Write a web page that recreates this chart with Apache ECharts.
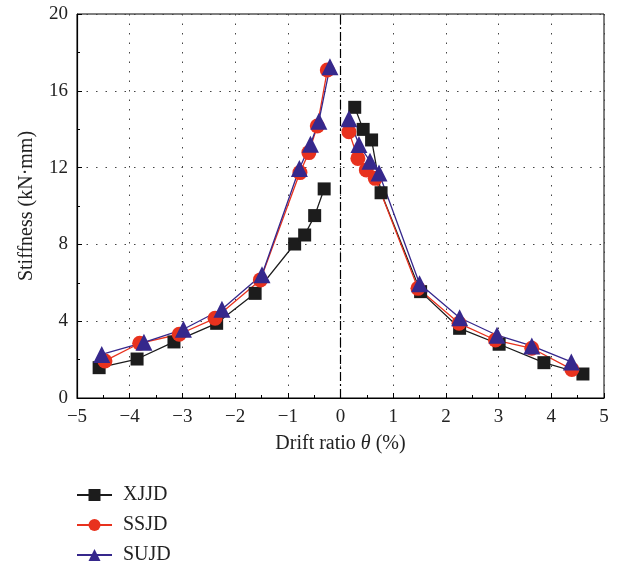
<!DOCTYPE html>
<html>
<head>
<meta charset="utf-8">
<script src="https://cdn.jsdelivr.net/npm/echarts@6/dist/echarts.min.js"></script>
<style>
  html, body { margin: 0; padding: 0; background: #fff; }
  #chart { width: 622px; height: 569px; }
</style>
</head>
<body>
<div id="chart"></div>
<script>
// Stiffness degradation versus drift ratio, negative and positive loading branches
const seriesNames = ['XJJD', 'SSJD', 'SUJD'];

const xjjdNeg = [[-4.58, 1.58], [-3.86, 2.03], [-3.16, 2.92], [-2.35, 3.89], [-1.62, 5.45],
                 [-0.87, 8.02], [-0.68, 8.49], [-0.49, 9.50], [-0.31, 10.89]];
const xjjdPos = [[0.27, 15.14], [0.43, 13.99], [0.59, 13.44], [0.77, 10.69], [1.52, 5.54],
                 [2.26, 3.63], [3.01, 2.80], [3.86, 1.84], [4.60, 1.25]];

const ssjdNeg = [[-4.47, 1.93], [-3.81, 2.85], [-3.06, 3.32], [-2.38, 4.15], [-1.52, 6.15],
                 [-0.77, 11.74], [-0.60, 12.78], [-0.44, 14.17], [-0.25, 17.08]];
const ssjdPos = [[0.16, 13.87], [0.33, 12.48], [0.49, 11.88], [0.66, 11.44], [1.47, 5.71],
                 [2.25, 3.89], [2.94, 3.02], [3.63, 2.59], [4.39, 1.49]];

const sujdNeg = [[-4.53, 2.27], [-3.73, 2.90], [-2.98, 3.58], [-2.25, 4.62], [-1.49, 6.42],
                 [-0.78, 11.95], [-0.57, 13.22], [-0.41, 14.42], [-0.20, 17.25]];
const sujdPos = [[0.16, 14.55], [0.35, 13.20], [0.56, 12.33], [0.73, 11.72], [1.50, 5.95],
                 [2.26, 4.18], [2.97, 3.27], [3.63, 2.71], [4.38, 1.88]];

const xTicks = [-5, -4, -3, -2, -1, 0, 1, 2, 3, 4, 5];
const yTicks = [0, 4, 8, 12, 16, 20];

const FONT = 'Liberation Serif';
const colors = { XJJD: '#1c1c1c', SSJD: '#e8321e', SUJD: '#36288c' };
const symbols = { XJJD: 'rect', SSJD: 'circle', SUJD: 'triangle' };
const sizes = { XJJD: 13, SSJD: 15, SUJD: 17 };

function branch(name, data, extra) {
  return Object.assign({
    name: name,
    type: 'line',
    data: data,
    symbol: symbols[name],
    symbolSize: sizes[name],
    showSymbol: true,
    lineStyle: { color: colors[name], width: 1.3 },
    itemStyle: { color: colors[name] },
    emphasis: { disabled: true },
    animation: false
  }, extra || {});
}

const minus = v => String(v).replace('-', '\u2212');

const option = {
  backgroundColor: '#fff',
  animation: false,
  grid: {
    left: 77, right: 18, top: 14, bottom: 171,
    show: true, borderColor: '#000', borderWidth: 1, backgroundColor: 'transparent'
  },
  xAxis: {
    type: 'value',
    min: xTicks[0], max: xTicks[xTicks.length - 1], interval: 1,
    name: 'Drift ratio {i|\u03B8} (%)',
    nameLocation: 'middle', nameGap: 36,
    nameTextStyle: {
      fontFamily: FONT, fontSize: 20, color: '#222',
      rich: { i: { fontFamily: FONT, fontSize: 20, fontStyle: 'italic', color: '#222' } }
    },
    axisLine: { show: true, onZero: false, lineStyle: { color: '#000', width: 1.2 } },
    axisTick: { show: true, inside: true, length: 5, lineStyle: { color: '#000' } },
    minorTick: { show: true, splitNumber: 2, length: 3, lineStyle: { color: '#000' } },
    axisLabel: { fontFamily: FONT, fontSize: 19, color: '#222', margin: 10, formatter: minus },
    splitLine: { show: true, lineStyle: { color: '#444', width: 1, type: [1.5, 8] } }
  },
  yAxis: {
    type: 'value',
    min: yTicks[0], max: yTicks[yTicks.length - 1], interval: 4,
    name: 'Stiffness (kN\u00B7mm)',
    nameLocation: 'middle', nameGap: 40,
    nameTextStyle: { fontFamily: FONT, fontSize: 20, color: '#222' },
    axisLine: { show: true, onZero: false, lineStyle: { color: '#000', width: 1.2 } },
    axisTick: { show: true, inside: true, length: 5, lineStyle: { color: '#000' } },
    minorTick: { show: true, splitNumber: 2, length: 3, lineStyle: { color: '#000' } },
    axisLabel: { fontFamily: FONT, fontSize: 19, color: '#222', margin: 9 },
    splitLine: { show: true, lineStyle: { color: '#444', width: 1, type: [1.5, 8] } }
  },
  legend: {
    orient: 'vertical',
    left: 76, top: 485, padding: 0,
    itemWidth: 35, itemHeight: 15, itemGap: 10,
    data: seriesNames,
    textStyle: { fontFamily: FONT, fontSize: 20, color: '#222', padding: [0, 0, 0, 6] },
    selectedMode: false
  },
  series: [
    branch('XJJD', xjjdNeg, {
      markLine: {
        silent: true, symbol: 'none', label: { show: false },
        lineStyle: { color: '#000', width: 1.2, type: [9, 3, 2, 3] },
        data: [{ xAxis: 0 }]
      }
    }),
    branch('XJJD', xjjdPos),
    branch('SSJD', ssjdNeg),
    branch('SSJD', ssjdPos),
    branch('SUJD', sujdNeg),
    branch('SUJD', sujdPos)
  ]
};

const chart = echarts.init(document.getElementById('chart'), null, { renderer: 'canvas' });
chart.setOption(option);
</script>
</body>
</html>
